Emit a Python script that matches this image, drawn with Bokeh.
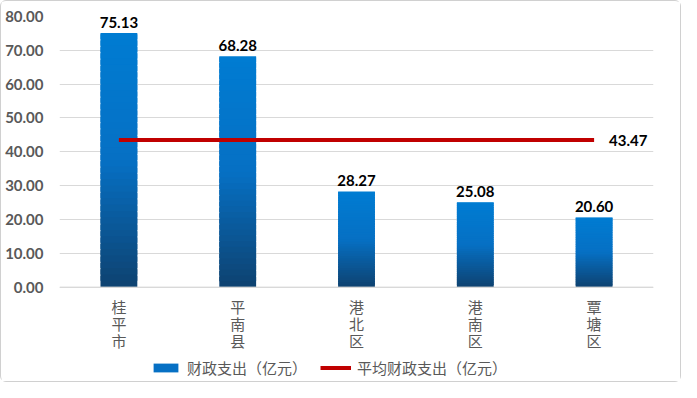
from bokeh.plotting import figure
from bokeh.models import ColumnDataSource, Legend, LegendItem, FixedTicker, NumeralTickFormatter, Span
from bokeh.core.properties import value
from bokeh.embed import file_html
from bokeh.resources import INLINE

categories = ["桂平市", "平南县", "港北区", "港南区", "覃塘区"]
spending = [75.13, 68.28, 28.27, 25.08, 20.60]
average = 43.47
y_ticks = [0, 10, 20, 30, 40, 50, 60, 70, 80]

xs = list(range(len(categories)))

p = figure(width=681, height=382, output_backend="svg", toolbar_location=None,
           x_range=(-0.5, len(categories) - 0.5), y_range=(-27.9, 80),
           min_border_left=58, min_border_right=29, min_border_top=15, min_border_bottom=2)
p.outline_line_color = None
p.background_fill_color = "white"
p.border_fill_color = "white"
p.styles = {"border": "1px solid #d0d0d0", "border-radius": "6px", "box-sizing": "border-box"}

# gradient bars: each bar is split into slices of its own height
N = 40
top_rgb = (0, 124, 210)
mid_rgb = (6, 112, 196)
bot_rgb = (14, 66, 112)

def shade(t):
    if t > 0.5:
        u = (t - 0.5) / 0.5
        a, b = mid_rgb, top_rgb
    else:
        u = t / 0.5
        a, b = bot_rgb, mid_rgb
    return "#%02x%02x%02x" % tuple(int(round(a[k] + (b[k] - a[k]) * u)) for k in range(3))

seg = dict(x=[], bottom=[], top=[], color=[])
for x, v in zip(xs, spending):
    for i in range(N):
        seg["x"].append(x)
        seg["bottom"].append(v * i / N)
        seg["top"].append(v * min(i + 1.8, N) / N)
        seg["color"].append(shade((i + 0.5) / N))
bars = p.vbar(x="x", bottom="bottom", top="top", width=0.31, fill_color="color",
              line_color=None, source=ColumnDataSource(seg))

p.add_layout(Span(location=0, dimension="width", line_color="#d9d9d9", line_width=1))

avg_src = ColumnDataSource(dict(x=[xs[0], xs[-1]], y=[average, average]))
avg_line = p.line("x", "y", line_color="#C00000", line_width=4, source=avg_src)

lab = ColumnDataSource(dict(x=xs, y=spending, t=["%.2f" % v for v in spending]))
p.text("x", "y", text="t", source=lab, text_align="center", text_baseline="bottom",
       y_offset=-5, text_font=value("Lato"), text_font_style="bold",
       text_font_size="15px", text_color="black")
p.text([xs[-1]], [average], text=["%.2f" % average], text_align="left",
       text_baseline="middle", x_offset=15, text_font=value("Lato"),
       text_font_style="bold", text_font_size="15px", text_color="black")

# vertical (stacked) category labels
cx, cy, ct, co = [], [], [], []
for x, name in zip(xs, categories):
    for k, ch in enumerate(name):
        cx.append(x)
        cy.append(0)
        ct.append(ch)
        co.append(9 + 17 * k)
p.text("x", "y", text="t", y_offset="o", source=ColumnDataSource(dict(x=cx, y=cy, t=ct, o=co)),
       text_align="center", text_baseline="top", text_font=value("Noto Sans CJK SC"),
       text_font_size="15px", text_color="#595959")

p.xgrid.visible = False
p.ygrid.grid_line_color = "#d9d9d9"
p.ygrid.ticker = FixedTicker(ticks=y_ticks)

p.xaxis.visible = False
p.yaxis.ticker = FixedTicker(ticks=y_ticks)
p.yaxis.formatter = NumeralTickFormatter(format="0.00")
p.yaxis.axis_line_color = None
p.yaxis.major_tick_line_color = None
p.yaxis.minor_tick_line_color = None
p.yaxis.major_label_text_font = "Lato"
p.yaxis.major_label_text_font_style = "bold"
p.yaxis.major_label_text_font_size = "15px"
p.yaxis.major_label_text_color = "#595959"
p.yaxis.major_label_standoff = 10

legend = Legend(items=[LegendItem(label="财政支出（亿元）", renderers=[bars], index=N // 2),
                       LegendItem(label="平均财政支出（亿元）", renderers=[avg_line])],
                orientation="horizontal", location=(91, 3),
                label_text_font="Noto Sans CJK SC", label_text_font_size="15px",
                label_text_color="#595959", glyph_width=31, glyph_height=11,
                spacing=13, label_standoff=6, border_line_color=None,
                background_fill_alpha=0, margin=0, padding=2)
p.add_layout(legend)

open("out.html", "w").write(file_html(p, INLINE))
